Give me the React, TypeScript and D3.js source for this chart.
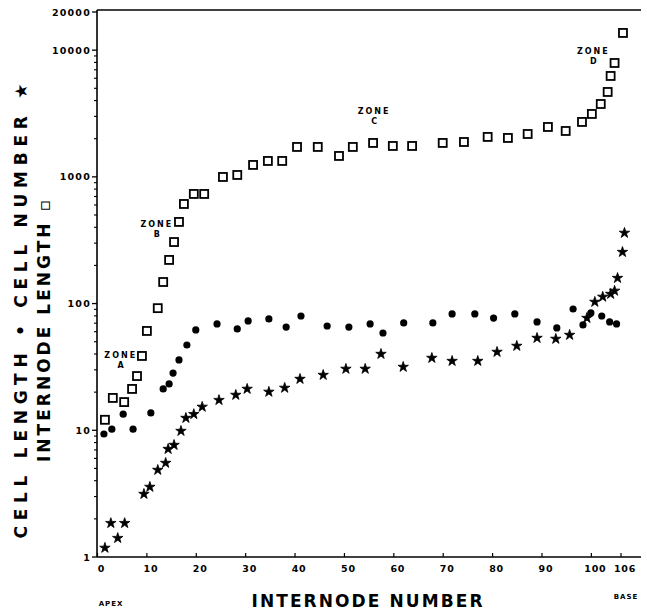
import React, { useEffect, useRef } from 'react';
import * as d3 from 'd3';

// internode length (open squares)
const lenN = [1.5, 3.1, 5.4, 7.0, 8.0, 9.0, 10.0, 12.2, 13.3, 14.5, 15.5, 16.5, 17.5, 19.5, 21.6, 25.4, 28.3, 31.5, 34.5, 37.4, 40.4, 44.6, 48.9, 51.7, 55.8, 59.8, 63.7, 69.9, 74.2, 79.0, 83.1, 87.1, 91.2, 94.8, 98.1, 100.1, 101.9, 103.3, 103.9, 104.7, 106.4];
const lenV = [12.1, 18, 16.7, 21.2, 26.8, 38.6, 60.8, 92, 148, 221, 306, 441, 611, 733, 733, 998, 1035, 1242, 1335, 1335, 1722, 1722, 1462, 1722, 1852, 1753, 1753, 1852, 1885, 2066, 2028, 2180, 2476, 2302, 2713, 3136, 3759, 4677, 6256, 7920, 13670];

// cell length (dots)
const cellLenN = [1.3, 2.9, 5.2, 7.2, 10.8, 13.3, 14.5, 15.3, 16.5, 18.1, 19.9, 24.2, 28.3, 30.5, 34.7, 38.2, 41.2, 46.5, 50.9, 55.2, 57.8, 62.0, 67.9, 71.8, 76.4, 80.2, 84.5, 89.0, 93.0, 96.3, 98.3, 99.9, 102.1, 103.7, 105.1];
const cellLenV = [9.35, 10.2, 13.4, 10.2, 13.7, 21.2, 23.2, 28.3, 35.9, 47.1, 61.9, 69.1, 63.1, 72.9, 75.6, 65.3, 79.8, 66.5, 65.3, 69.1, 58.6, 70.3, 70.3, 82.8, 82.8, 76.9, 82.8, 71.6, 64.2, 90.6, 67.8, 84.3, 79.8, 71.6, 69.1];

// cell number (stars)
const cellNumN = [1.5, 2.7, 4.1, 5.5, 9.4, 10.6, 12.2, 13.8, 14.3, 15.5, 16.9, 17.9, 19.5, 21.2, 24.6, 28.0, 30.3, 34.7, 37.9, 41.0, 45.7, 50.3, 54.2, 57.4, 61.9, 67.7, 71.8, 77.0, 80.9, 84.9, 89.0, 92.8, 95.6, 99.1, 100.7, 102.3, 103.9, 104.7, 105.3, 106.3, 106.7];
const cellNumV = [1.18, 1.85, 1.41, 1.85, 3.14, 3.57, 4.86, 5.52, 7.11, 7.65, 9.87, 12.5, 13.4, 15.3, 17.3, 19.0, 21.2, 20.1, 21.6, 25.4, 27.3, 30.5, 30.5, 40.0, 31.6, 37.2, 35.2, 35.2, 41.5, 46.3, 53.5, 52.6, 56.5, 76.9, 103, 113, 119, 126, 159, 255, 361];

const xTicks = [0, 10, 20, 30, 40, 50, 60, 70, 80, 90, 100, 106];
const yTicks = [1, 10, 100, 1000, 10000, 20000];

const zones = [
  { name: 'A', n: 4.7, v: 37 },
  { name: 'B', n: 12, v: 400 },
  { name: 'C', n: 56, v: 3150 },
  { name: 'D', n: 100.4, v: 9300 },
];

const FONT = 'DejaVu Sans, Verdana, sans-serif';

const App = () => {
  const ref = useRef(null);

  useEffect(() => {
    const svg = d3.select(ref.current);
    svg.selectAll('*').remove();

    const x = d3.scaleLinear().domain([0, 106]).range([97.5, 621]);
    const y = d3.scaleLog().domain([1, 20000]).range([557, 12]);

    const left = 97, right = 641, top = 10, bottom = 557;

    // frame
    svg.append('line').attr('x1', left).attr('x2', left).attr('y1', top).attr('y2', bottom)
      .attr('stroke', '#000').attr('stroke-width', 1.6);
    svg.append('line').attr('x1', left).attr('x2', right).attr('y1', bottom).attr('y2', bottom)
      .attr('stroke', '#000').attr('stroke-width', 1.6);
    svg.append('line').attr('x1', left).attr('x2', right).attr('y1', top).attr('y2', top)
      .attr('stroke', '#000').attr('stroke-width', 1.4);

    // y minor / major ticks
    const minor = [];
    for (let d = 1; d < 20000; d *= 10) {
      for (let k = 2; k <= 9; k++) if (d * k < 20000) minor.push(d * k);
    }
    svg.append('g').selectAll('line').data(minor).enter().append('line')
      .attr('x1', left - 3).attr('x2', left).attr('y1', d => y(d)).attr('y2', d => y(d))
      .attr('stroke', '#000').attr('stroke-width', 1.1);
    svg.append('g').selectAll('line').data(yTicks).enter().append('line')
      .attr('x1', left - 5).attr('x2', left).attr('y1', d => y(d)).attr('y2', d => y(d))
      .attr('stroke', '#000').attr('stroke-width', 1.3);
    svg.append('g').selectAll('text').data(yTicks).enter().append('text')
      .attr('x', left - 6).attr('y', d => y(d) + 3.5)
      .attr('text-anchor', 'end').attr('font-family', FONT).attr('font-weight', 'bold')
      .attr('font-size', 9.5).attr('letter-spacing', 1.2)
      .text(d => String(d));

    // x ticks
    svg.append('g').selectAll('line').data(xTicks).enter().append('line')
      .attr('x1', d => x(d)).attr('x2', d => x(d)).attr('y1', bottom - 4).attr('y2', bottom)
      .attr('stroke', '#000').attr('stroke-width', 1.2);
    svg.append('g').selectAll('text').data(xTicks).enter().append('text')
      .attr('x', d => x(d) + 4).attr('y', 572)
      .attr('text-anchor', 'middle').attr('font-family', FONT).attr('font-weight', 'bold')
      .attr('font-size', 9.5).attr('letter-spacing', 0.8)
      .text(d => String(d));

    // internode length squares
    const sq = 8;
    svg.append('g').selectAll('rect').data(lenN.map((n, i) => [n, lenV[i]])).enter().append('rect')
      .attr('x', d => x(d[0]) - sq / 2).attr('y', d => y(d[1]) - sq / 2)
      .attr('width', sq).attr('height', sq)
      .attr('fill', '#fff').attr('stroke', '#000').attr('stroke-width', 1.8);

    // cell length dots
    svg.append('g').selectAll('circle').data(cellLenN.map((n, i) => [n, cellLenV[i]])).enter().append('circle')
      .attr('cx', d => x(d[0])).attr('cy', d => y(d[1])).attr('r', 3.6).attr('fill', '#000');

    // cell number stars
    const star = d3.symbol().type(d3.symbolStar).size(34);
    svg.append('g').selectAll('path').data(cellNumN.map((n, i) => [n, cellNumV[i]])).enter().append('path')
      .attr('d', star)
      .attr('transform', d => `translate(${x(d[0])},${y(d[1])})`)
      .attr('fill', '#000').attr('stroke', '#000').attr('stroke-width', 0.8);

    // zone labels
    const zg = svg.append('g').attr('font-family', FONT).attr('font-weight', 'bold').attr('font-size', 8);
    zones.forEach(z => {
      zg.append('text').attr('x', x(z.n)).attr('y', y(z.v))
        .attr('text-anchor', 'middle').attr('letter-spacing', 2).text('ZONE');
      zg.append('text').attr('x', x(z.n)).attr('y', y(z.v) + 10)
        .attr('text-anchor', 'middle').text(z.name);
    });

    // axis titles
    svg.append('text').attr('x', 367).attr('y', 607)
      .attr('text-anchor', 'middle').attr('font-family', FONT).attr('font-weight', 'bold')
      .attr('font-size', 17).attr('textLength', 231).attr('lengthAdjust', 'spacing')
      .text('INTERNODE NUMBER');
    svg.append('text').attr('x', 111).attr('y', 606)
      .attr('text-anchor', 'middle').attr('font-family', FONT).attr('font-weight', 'bold')
      .attr('font-size', 7).attr('letter-spacing', 1).text('APEX');
    svg.append('text').attr('x', 626).attr('y', 599)
      .attr('text-anchor', 'middle').attr('font-family', FONT).attr('font-weight', 'bold')
      .attr('font-size', 7).attr('letter-spacing', 1).text('BASE');

    svg.append('text').attr('transform', 'translate(27,311) rotate(-90)')
      .attr('text-anchor', 'middle').attr('font-family', FONT).attr('font-weight', 'bold')
      .attr('font-size', 17).attr('textLength', 455).attr('lengthAdjust', 'spacing')
      .text('CELL LENGTH • CELL NUMBER ★');
    svg.append('text').attr('transform', 'translate(50,331) rotate(-90)')
      .attr('text-anchor', 'middle').attr('font-family', FONT).attr('font-weight', 'bold')
      .attr('font-size', 17).attr('textLength', 262).attr('lengthAdjust', 'spacing')
      .text('INTERNODE LENGTH ▫');
  }, []);

  return (
    <div style={{ position: 'absolute', left: 0, top: 0 }}>
      <svg ref={ref} width={647} height={612} style={{ display: 'block', background: '#fff' }}></svg>
    </div>
  );
};

export default App;
